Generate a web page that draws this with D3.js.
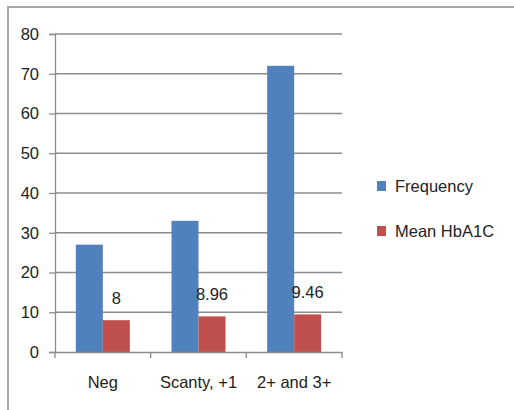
<!DOCTYPE html>
<html>
<head>
<meta charset="utf-8">
<script src="https://cdn.jsdelivr.net/npm/d3@7"></script>
<style>
  body { margin: 0; background: #fff; }
  text { font-family: "Liberation Sans", Arial, sans-serif; fill: #222; }
</style>
</head>
<body>
<svg id="chart" width="514" height="410"></svg>
<script>
var categories = ["Neg", "Scanty, +1", "2+ and 3+"]
var frequency = [27, 33, 72]
var meanHbA1C = [8, 8.96, 9.46]
var hbLabels = ["8", "8.96", "9.46"]
var yTicks = [0, 10, 20, 30, 40, 50, 60, 70, 80]
var seriesNames = ["Frequency", "Mean HbA1C"]
var colors = ["#4f81bd", "#c0504d"]

var svg = d3.select("#chart")
var margin = {top: 34, left: 55, right: 172, bottom: 58}
var width = 514 - margin.left - margin.right
var height = 410 - margin.top - margin.bottom
var fs = 16.5

// outer frame
svg.append("rect")
   .attr("x", 8).attr("y", 7)
   .attr("width", 520).attr("height", 420)
   .attr("fill", "none").attr("stroke", "#a6a6a6").attr("stroke-width", 2)

var g = svg.append("g").attr("transform", "translate(" + margin.left + "," + margin.top + ")")

var x = d3.scaleBand().domain(categories).range([0, width])
var xInner = d3.scaleBand().domain(seriesNames).range([0, 54])
var y = d3.scaleLinear().domain([0, 80]).range([height, 0])

// gridlines
g.selectAll(".grid")
 .data(yTicks.slice(1))
 .enter().append("line")
 .attr("x1", 0).attr("x2", width)
 .attr("y1", function(d){ return y(d) }).attr("y2", function(d){ return y(d) })
 .attr("stroke", "#8c8c8c").attr("stroke-width", 1.3)

// bars
var groups = g.selectAll(".grp")
 .data(categories)
 .enter().append("g")
 .attr("transform", function(d){ return "translate(" + (x(d) + (x.bandwidth() - 54) / 2) + ",0)" })

groups.append("rect")
 .attr("x", xInner("Frequency"))
 .attr("width", xInner.bandwidth())
 .attr("y", function(d, i){ return y(frequency[i]) })
 .attr("height", function(d, i){ return height - y(frequency[i]) })
 .attr("fill", colors[0])

groups.append("rect")
 .attr("x", xInner("Mean HbA1C"))
 .attr("width", xInner.bandwidth())
 .attr("y", function(d, i){ return y(meanHbA1C[i]) })
 .attr("height", function(d, i){ return height - y(meanHbA1C[i]) })
 .attr("fill", colors[1])

groups.append("text")
 .attr("x", xInner("Mean HbA1C") + xInner.bandwidth() / 2)
 .attr("y", function(d, i){ return y(meanHbA1C[i]) - 16 })
 .attr("text-anchor", "middle")
 .attr("font-size", fs)
 .text(function(d, i){ return hbLabels[i] })

// axes
var yAxis = g.append("g")
 .call(d3.axisLeft(y).tickValues(yTicks).tickSize(6).tickPadding(10))
yAxis.select(".domain").attr("stroke", "#8c8c8c").attr("stroke-width", 1.3)
yAxis.selectAll("line").attr("stroke", "#8c8c8c").attr("stroke-width", 1.3)
yAxis.selectAll("text").attr("font-size", fs).attr("fill", "#222")

var xAxis = g.append("g")
 .attr("transform", "translate(0," + height + ")")
 .call(d3.axisBottom(x).tickSize(0).tickPadding(24))
xAxis.select(".domain").attr("stroke", "#8c8c8c").attr("stroke-width", 1.3)
xAxis.selectAll("text").attr("font-size", fs).attr("fill", "#222")
xAxis.selectAll(".sep")
 .data(d3.range(categories.length + 1))
 .enter().append("line")
 .attr("x1", function(i){ return i * x.bandwidth() })
 .attr("x2", function(i){ return i * x.bandwidth() })
 .attr("y1", 0).attr("y2", 6)
 .attr("stroke", "#8c8c8c").attr("stroke-width", 1.3)

// legend
var legend = svg.selectAll(".leg")
 .data(seriesNames)
 .enter().append("g")
 .attr("transform", function(d, i){ return "translate(377," + (186 + i * 45) + ")" })
legend.append("rect")
 .attr("x", 0).attr("y", -5).attr("width", 9).attr("height", 10)
 .attr("fill", function(d, i){ return colors[i] })
legend.append("text")
 .attr("x", 18).attr("y", 0).attr("dy", "0.35em")
 .attr("font-size", fs)
 .text(function(d){ return d })
</script>
</body>
</html>
